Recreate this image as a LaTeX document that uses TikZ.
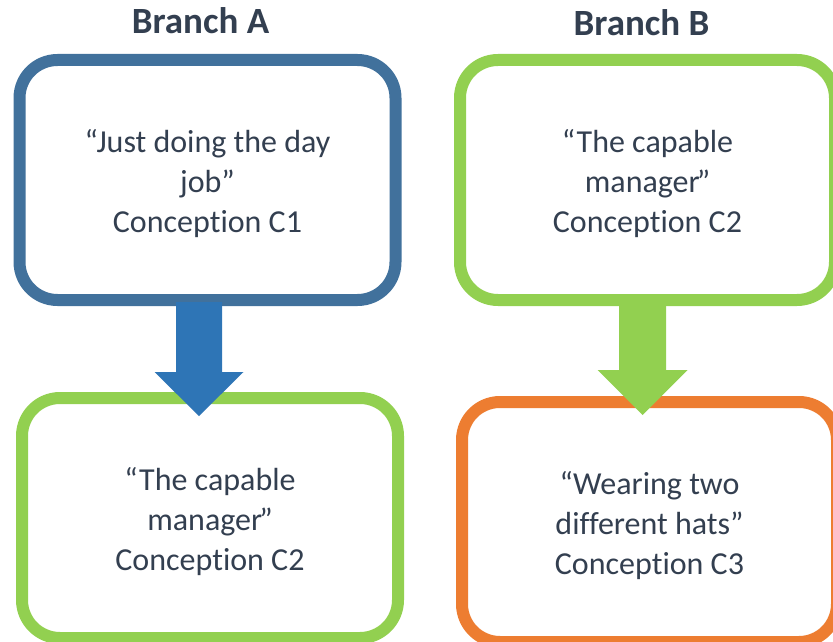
\documentclass[tikz,border=0pt]{standalone}
\usepackage{fontspec}
\setmainfont[Ligatures={NoCommon}]{Carlito}
\usetikzlibrary{calc}
\definecolor{txt}{HTML}{333F50}
\definecolor{boxblue}{HTML}{41719C}
\definecolor{arrblue}{HTML}{2E75B6}
\definecolor{grn}{HTML}{92D050}
\definecolor{org}{HTML}{ED7D31}
\newcommand\conc[1]{Concept\kern0pt{}ion C#1}
\newcommand\lift{\rule{0pt}{31pt}}
\tikzset{
  concept/.style={draw, line width=12pt, rounded corners=38pt, fill=white,
    minimum width=#1, minimum height=240pt, outer sep=0pt, inner sep=0pt,
    align=center, text=txt, font=\fontsize{32}{40}\selectfont},
  title/.style={anchor=base, text=txt, font=\fontsize{37}{44}\selectfont\bfseries, inner sep=0pt},
}
\begin{document}
\begin{tikzpicture}[x=1pt, y=-1pt]
\useasboundingbox (0,0) rectangle (833,642);
\node[title] (ta) at (200.5,34) {Branch A};
\node[title] (tb) at (641.5,36) {Branch B};
\node[concept=376pt, draw=boxblue] (a1) at (207.5,180) {\lift“Just doing the day\\job”\\\conc{1}};
\node[concept=375pt, draw=grn] (b1) at (647.5,180) {\lift“The capable\\manager\kern-3pt”\\\conc{2}};
\node[concept=376pt, draw=grn] (a2) at (210,518) {\lift“The capable\\manager\kern-3pt”\\\conc{2}};
\node[concept=375pt, draw=org] (b2) at (649.5,522) {\lift“Wearing two\\different hats”\\\conc{3}};
\coordinate (sa) at ($(a1.south)+(-8.5,2)$);
\coordinate (ea) at ($(a2.north)+(-11,18)$);
\coordinate (sb) at ($(b1.south)+(-5,2)$);
\coordinate (eb) at ($(b2.north)+(-7,13)$);
\fill[arrblue] let \p1=(sa), \p2=(ea) in
  (\x1-23pt,\y1) -- (\x1+23pt,\y1) -- (\x1+23pt,\y2+44pt) -- (\x1+44.5pt,\y2+44pt)
  -- (\x2,\y2) -- (\x1-44.5pt,\y2+44pt) -- (\x1-23pt,\y2+44pt) -- cycle;
\fill[grn] let \p1=(sb), \p2=(eb) in
  (\x1-23.5pt,\y1) -- (\x1+23.5pt,\y1) -- (\x1+23.5pt,\y2+45pt) -- (\x1+45pt,\y2+45pt)
  -- (\x2,\y2) -- (\x1-45pt,\y2+45pt) -- (\x1-23.5pt,\y2+45pt) -- cycle;
\end{tikzpicture}
\end{document}
